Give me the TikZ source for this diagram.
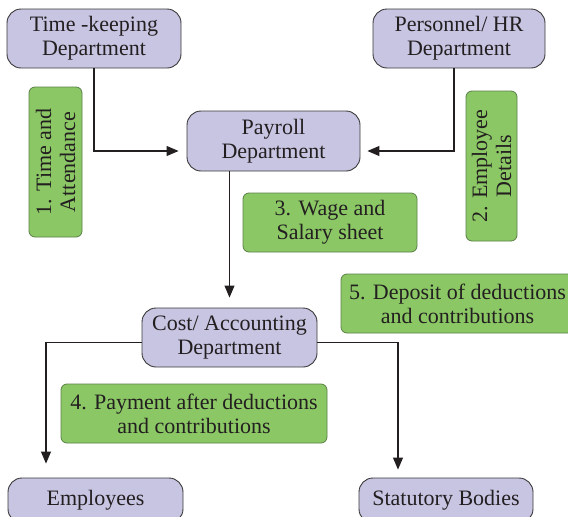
\documentclass[tikz,border=0pt]{standalone}
\usepackage{fontspec}
\setmainfont{Liberation Serif}
\usetikzlibrary{arrows.meta, positioning}
\definecolor{deptLilac}{HTML}{C8C5E3}
\definecolor{deptEdge}{HTML}{3A3838}
\definecolor{flowGreen}{HTML}{8BC865}
\definecolor{flowEdge}{HTML}{5A7F46}
\definecolor{inkGray}{HTML}{231F20}

\begin{document}
\begin{tikzpicture}[
  x=1pt, y=-1pt,
  dept/.style={
    rectangle, rounded corners=14pt, draw=deptEdge, fill=deptLilac,
    minimum width=174pt, minimum height=59pt, inner sep=2pt,
    font=\fontsize{22}{24}\selectfont, text=inkGray, align=center,
    line width=0.9pt,
  },
  flow/.style={
    rectangle, rounded corners=6pt, draw=flowEdge, fill=flowGreen,
    minimum height=59pt, inner sep=2pt,
    font=\fontsize{22}{24}\selectfont, text=inkGray, align=center,
    line width=0.8pt,
  },
  arrow/.style={-{Triangle[length=12pt, width=10pt]}, line width=1.1pt, color=inkGray},
]
\clip (0,0) rectangle (568,517);

% Departments
\node[dept] (timekeep) at (94,38.5) {Time -keeping\\Department};
\node[dept, minimum width=172pt] (personnel) at (459,38.5) {Personnel/ HR\\Department};
\node[dept, minimum width=173pt, minimum height=60pt] (payroll) at (273.5,141) {Payroll\\Department};
\node[dept, minimum width=175pt] (costacc) at (229.5,337.5) {Cost/ Accounting\\Department};
\node[dept, minimum width=175pt, minimum height=45pt] (employees) at (95.5,500.5) {Employees};
\node[dept, minimum height=45pt] (statutory) at (446,500.5) {Statutory Bodies};

% Flow labels
\node[flow, rotate=90, minimum width=150pt, minimum height=53pt] (attendance) at (55.5,162) {1. Time and\\Attendance};
\node[flow, rotate=90, minimum width=150pt, minimum height=51pt] (empdetails) at (491.5,166) {2. Employee\\Details};
\node[flow, minimum width=174pt] (wagesheet) at (330,222.5) {3. Wage and\\Salary sheet};
\node[flow, minimum width=266pt] (payment) at (194,413.5) {4. Payment after deductions\\and contributions};
\node[flow, minimum width=233pt] (deposit) at (457.5,303.5) {5. Deposit of deductions\\and contributions};

% Arrows -- into payroll
\draw[arrow, shorten >=8pt] (timekeep.south) |- ([yshift=-10pt]payroll.west);
\draw[arrow, shorten >=7pt] ([xshift=-5pt]personnel.south) |- ([yshift=-10pt]payroll.east);
\draw[arrow, shorten >=10pt] (payroll.south -| costacc.north) -- (costacc.north);

% Arrows -- out of cost/accounting
\draw[arrow, shorten >=14pt] ([yshift=-5pt]costacc.west) -| ([xshift=-49.5pt]employees.north);
\draw[arrow, shorten >=8pt] ([yshift=-5pt]costacc.east) -| ([xshift=-48pt]statutory.north);

\end{tikzpicture}
\end{document}
